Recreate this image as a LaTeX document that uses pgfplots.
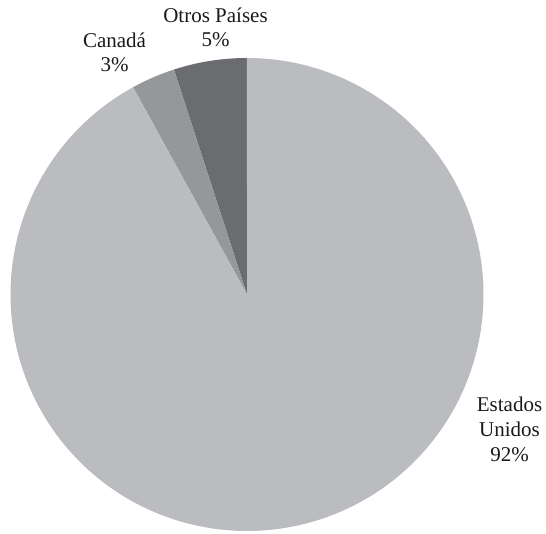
\documentclass[border=0pt]{standalone}
\usepackage{fontspec}
\setmainfont{Liberation Serif}
\usepackage{pgfplots}
\pgfplotsset{compat=1.18}
\definecolor{cEU}{RGB}{187,188,192}
\definecolor{cCA}{RGB}{150,151,155}
\definecolor{cOT}{RGB}{107,108,112}
% shares in percent
\def\pOtros{5}
\def\pCanada{3}
\def\pEU{92}
\pgfmathsetmacro{\aA}{90}
\pgfmathsetmacro{\aB}{90+3.6*\pOtros}
\pgfmathsetmacro{\aC}{\aB+3.6*\pCanada}
\pgfmathsetmacro{\aD}{\aC+3.6*\pEU}
\def\cx{247}
\def\cy{239.5}
\def\R{236.5}
\begin{document}
\begin{tikzpicture}
\begin{axis}[
  scale only axis, width=546pt, height=534pt,
  xmin=0, xmax=546, ymin=0, ymax=534,
  hide axis, clip=false,
]
\path (axis cs:0,0) rectangle (axis cs:546,534);
\addplot[fill=cOT, draw=none, domain=\aA:\aB, samples=30, variable=\t]
  ({\cx+\R*cos(t)},{\cy+\R*sin(t)}) -- (axis cs:\cx,\cy) -- cycle;
\addplot[fill=cCA, draw=none, domain=\aB:\aC, samples=20, variable=\t]
  ({\cx+\R*cos(t)},{\cy+\R*sin(t)}) -- (axis cs:\cx,\cy) -- cycle;
\addplot[fill=cEU, draw=none, domain=\aC:\aD, samples=300, variable=\t]
  ({\cx+\R*cos(t)},{\cy+\R*sin(t)}) -- (axis cs:\cx,\cy) -- cycle;
\begin{scope}[every node/.style={font=\fontsize{21}{25}\selectfont, anchor=base, inner sep=0pt, text=black!90}]
\node at (axis cs:215.5,511) {Otros Países};
\node at (axis cs:215.5,487) {5\%};
\node at (axis cs:114.5,486) {Canadá};
\node at (axis cs:114.5,462) {3\%};
\node at (axis cs:509.5,122) {Estados};
\node at (axis cs:509.5,97) {Unidos};
\node at (axis cs:509.5,72) {92\%};
\end{scope}
\end{axis}
\end{tikzpicture}
\end{document}
